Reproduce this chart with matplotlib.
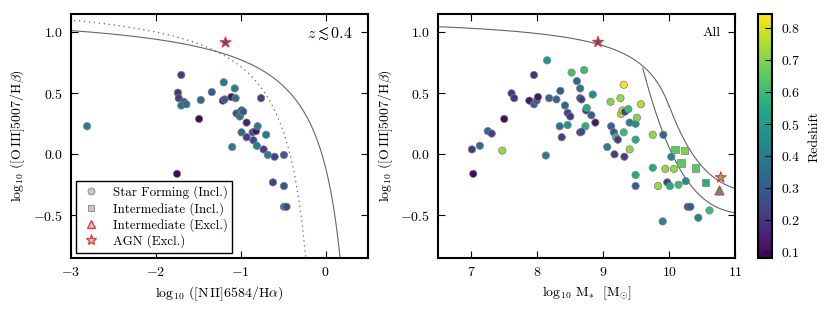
import numpy as np
import matplotlib
matplotlib.use("Agg")
import matplotlib.pyplot as plt
from matplotlib.lines import Line2D

plt.rcParams.update({
    "font.family": "serif",
    "font.serif": ["cmr10"],
    "mathtext.fontset": "cm",
    "axes.formatter.use_mathtext": True,
    "font.size": 10,
    "axes.linewidth": 1.5,
    "xtick.direction": "in",
    "ytick.direction": "in",
    "xtick.top": True,
    "ytick.right": True,
    "xtick.major.size": 5,
    "ytick.major.size": 5,
    "xtick.major.pad": 6,
    "ytick.major.pad": 6,
})

# ---------------- data: BPT panel (z <~ 0.4) ----------------
bpt_x = [-2.81, -1.70, -1.74, -1.73, -1.67, -1.70, -1.64, -1.47, -1.34, -1.20,
         -1.07, -1.21, -1.19, -1.11, -1.06, -1.49, -0.76, -1.05, -1.01, -0.99,
         -0.97, -0.93, -1.10, -0.99, -0.93, -0.86, -0.82, -0.80, -0.85, -0.81,
         -0.70, -0.73, -0.68, -0.60, -0.49, -0.62, -0.49, -0.49, -0.46, -1.75]
bpt_y = [0.23, 0.65, 0.505, 0.46, 0.43, 0.40, 0.41, 0.445, 0.51, 0.59,
         0.54, 0.44, 0.45, 0.47, 0.46, 0.29, 0.46, 0.335, 0.31, 0.36,
         0.35, 0.26, 0.06, 0.18, 0.14, 0.18, 0.19, 0.23, 0.115, 0.07,
         0.16, 0.04, -0.005, -0.02, -0.005, -0.23, -0.26, -0.43, -0.43, -0.16]
bpt_z = [0.40, 0.22, 0.20, 0.22, 0.30, 0.38, 0.35, 0.35, 0.30, 0.38,
         0.40, 0.10, 0.30, 0.12, 0.35, 0.10, 0.22, 0.28, 0.38, 0.28,
         0.28, 0.15, 0.40, 0.35, 0.22, 0.28, 0.12, 0.38, 0.25, 0.40,
         0.38, 0.22, 0.40, 0.23, 0.30, 0.22, 0.28, 0.40, 0.25, 0.10]
bpt_agn_x = [-1.18]
bpt_agn_y = [0.92]
bpt_agn_z = [0.30]

# ---------------- data: MEx panel (all) ----------------
mex_x = [7.01, 7.03, 7.13, 7.25, 7.31, 7.47, 7.50, 7.61, 7.65, 7.88,
         7.95, 7.95, 7.99, 8.01, 8.15, 8.18, 8.13, 8.29, 8.35, 8.34,
         8.37, 8.42, 8.46, 8.46, 8.50, 8.52, 8.60, 8.65, 8.65, 8.67,
         8.71, 8.74, 8.75, 8.73, 8.65, 8.67, 8.82, 8.84, 8.88, 9.06,
         9.11, 9.12, 9.16, 9.19, 9.22, 9.17, 9.26, 9.27, 9.29, 9.31,
         9.33, 9.32, 9.31, 9.38, 9.40, 9.40, 9.49, 9.51, 9.57, 9.49,
         9.49, 9.49, 9.75, 9.91, 9.75, 9.83, 9.94, 10.07, 10.03, 9.97,
         10.01, 10.14, 10.25, 10.28, 10.32, 10.44, 10.61, 9.90]
mex_y = [0.04, -0.16, 0.07, 0.19, 0.17, 0.03, 0.29, 0.50, 0.46, 0.44,
         0.65, 0.41, 0.44, 0.47, 0.77, 0.46, -0.01, 0.45, 0.52, 0.23,
         0.14, 0.40, 0.24, 0.34, 0.31, 0.67, 0.60, 0.54, 0.46, 0.45,
         0.69, 0.36, 0.38, 0.23, 0.18, 0.185, 0.32, 0.49, 0.26, 0.06,
         0.43, 0.23, 0.18, 0.14, 0.12, 0.00, 0.46, 0.33, 0.36, 0.57,
         0.35, -0.02, 0.18, 0.37, 0.26, 0.04, 0.25, 0.30, 0.41, 0.12,
         -0.17, -0.26, 0.16, 0.16, -0.11, -0.26, -0.12, -0.12, -0.02, -0.23,
         -0.26, -0.25, -0.22, -0.43, -0.43, -0.52, -0.46, -0.55]
mex_z = [0.20, 0.10, 0.35, 0.33, 0.22, 0.72, 0.10, 0.20, 0.20, 0.12,
         0.20, 0.30, 0.30, 0.12, 0.50, 0.32, 0.40, 0.33, 0.30, 0.37,
         0.22, 0.33, 0.50, 0.22, 0.20, 0.62, 0.33, 0.37, 0.22, 0.22,
         0.60, 0.20, 0.55, 0.55, 0.12, 0.25, 0.30, 0.45, 0.12, 0.42,
         0.70, 0.33, 0.30, 0.60, 0.22, 0.22, 0.72, 0.75, 0.75, 0.83,
         0.22, 0.22, 0.60, 0.60, 0.42, 0.72, 0.45, 0.70, 0.75, 0.55,
         0.55, 0.30, 0.72, 0.33, 0.55, 0.72, 0.72, 0.72, 0.43, 0.22,
         0.55, 0.60, 0.45, 0.25, 0.30, 0.42, 0.60, 0.42]
mex_sq_x = [10.09, 10.23, 10.18, 10.40, 10.55]
mex_sq_y = [0.04, 0.03, -0.07, -0.11, -0.23]
mex_sq_z = [0.65, 0.70, 0.65, 0.65, 0.55]
mex_tri_x = [10.75]
mex_tri_y = [-0.29]
mex_tri_z = [0.55]
mex_agn_x = [8.92, 10.78]
mex_agn_y = [0.92, -0.19]
mex_agn_z = [0.30, 0.65]

# ---------------- demarcation lines (literature coefficients) ----------------
kewley = [0.61, 0.47, 1.19]      # y = a/(x-b)+c
kauffmann = [0.61, 0.05, 1.30]
mex_hyp = [0.375, 10.5, 1.14]
mex_upper_cubic = [410.24, -109.333, 9.71731, -0.288244]
mex_lower_cubic = [352.066, -93.8249, 8.32651, -0.246416]

vmin, vmax = 0.08, 0.845
cmap = "viridis"

fig = plt.figure(figsize=(8.31, 3.12), dpi=100)
ax1 = fig.add_axes([0.0854, 0.1731, 0.3574, 0.782])
ax2 = fig.add_axes([0.5274, 0.1731, 0.3574, 0.782])
cax = fig.add_axes([0.9118, 0.1731, 0.0176, 0.782])

circ_kw = dict(marker="o", s=28, cmap=cmap, vmin=vmin, vmax=vmax,
               edgecolors="0.5", linewidths=0.5, zorder=3)

# ---- left panel ----
xk = np.linspace(-3.2, 0.46, 800)
ax1.plot(xk, kewley[0] / (xk - kewley[1]) + kewley[2], color="0.4", lw=0.8)
xa = np.linspace(-3.2, 0.04, 800)
ax1.plot(xa, kauffmann[0] / (xa - kauffmann[1]) + kauffmann[2], color="0.4",
         lw=0.9, ls=(0, (1, 3)))
ax1.scatter(bpt_x, bpt_y, c=bpt_z, **circ_kw)
ax1.scatter(bpt_agn_x, bpt_agn_y, c=bpt_agn_z, marker="*", s=65, cmap=cmap,
            vmin=vmin, vmax=vmax, edgecolors="#ee3333", linewidths=0.8, zorder=4)
ax1.set_xlim(-3, 0.5)
ax1.set_ylim(-0.85, 1.15)
ax1.set_xticks([-3, -2, -1, 0])
ax1.set_yticks([-0.5, 0.0, 0.5, 1.0])
ax1.set_xlabel(r"$\log_{10}\,([\mathrm{N\,II}]6584/\mathrm{H}\alpha)$")
ax1.set_ylabel(r"$\log_{10}\,([\mathrm{O\,III}]5007/\mathrm{H}\beta)$")
ax1.text(0.95, 0.922, r"$z \lesssim 0.4$", transform=ax1.transAxes,
         ha="right", va="center", fontsize=11.5)

handles = [
    Line2D([], [], ls="none", marker="o", ms=5, mfc="0.78", mec="0.5", mew=0.6),
    Line2D([], [], ls="none", marker="s", ms=5, mfc="0.78", mec="0.5", mew=0.6),
    Line2D([], [], ls="none", marker="^", ms=6, mfc="0.78", mec="#ee3333", mew=0.9),
    Line2D([], [], ls="none", marker="*", ms=8, mfc="0.78", mec="#ee3333", mew=0.9),
]
labels = ["Star Forming (Incl.)", "Intermediate (Incl.)",
          "Intermediate (Excl.)", "AGN (Excl.)"]
leg = ax1.legend(handles, labels, loc="lower left", fontsize=9.3, frameon=True,
                 fancybox=False, edgecolor="black", framealpha=1,
                 borderpad=0.35, labelspacing=0.2, handlelength=1.6,
                 handletextpad=0.9, borderaxespad=0.4)
leg.get_frame().set_linewidth(1.0)

# ---- right panel ----
xh = np.linspace(6.4, 10.0, 600)
ax2.plot(xh, mex_hyp[0] / (xh - mex_hyp[1]) + mex_hyp[2], color="0.4", lw=0.8)
xu = np.linspace(10.0, 11.1, 300)
ax2.plot(xu, np.polyval(mex_upper_cubic[::-1], xu), color="0.4", lw=0.8)
xl = np.linspace(9.6, 11.1, 300)
ax2.plot(xl, np.polyval(mex_lower_cubic[::-1], xl), color="0.4", lw=0.8)

sc = ax2.scatter(mex_x, mex_y, c=mex_z, **circ_kw)
ax2.scatter(mex_sq_x, mex_sq_y, c=mex_sq_z, marker="s", s=30, cmap=cmap,
            vmin=vmin, vmax=vmax, edgecolors="0.5", linewidths=0.5, zorder=3)
ax2.scatter(mex_tri_x, mex_tri_y, c=mex_tri_z, marker="^", s=40, cmap=cmap,
            vmin=vmin, vmax=vmax, edgecolors="#ee3333", linewidths=0.9, zorder=4)
ax2.scatter(mex_agn_x, mex_agn_y, c=mex_agn_z, marker="*", s=65, cmap=cmap,
            vmin=vmin, vmax=vmax, edgecolors="#ee3333", linewidths=0.8, zorder=4)
ax2.set_xlim(6.5, 11)
ax2.set_ylim(-0.85, 1.15)
ax2.set_xticks([7, 8, 9, 10, 11])
ax2.set_yticks([-0.5, 0.0, 0.5, 1.0])
ax2.set_xlabel(r"$\log_{10}\,\mathrm{M}_{*}\ \ [\mathrm{M}_{\odot}]$")
ax2.set_ylabel(r"$\log_{10}\,([\mathrm{O\,III}]5007/\mathrm{H}\beta)$")
ax2.text(0.95, 0.922, "All", transform=ax2.transAxes,
         ha="right", va="center", fontsize=10)

cb = fig.colorbar(sc, cax=cax)
cb.set_ticks([0.1, 0.2, 0.3, 0.4, 0.5, 0.6, 0.7, 0.8])
cb.set_label("Redshift", labelpad=6)
cb.outline.set_linewidth(1.5)
cax.tick_params(direction="in", length=5, right=True, left=False)

fig.savefig("out.png", dpi=100)
